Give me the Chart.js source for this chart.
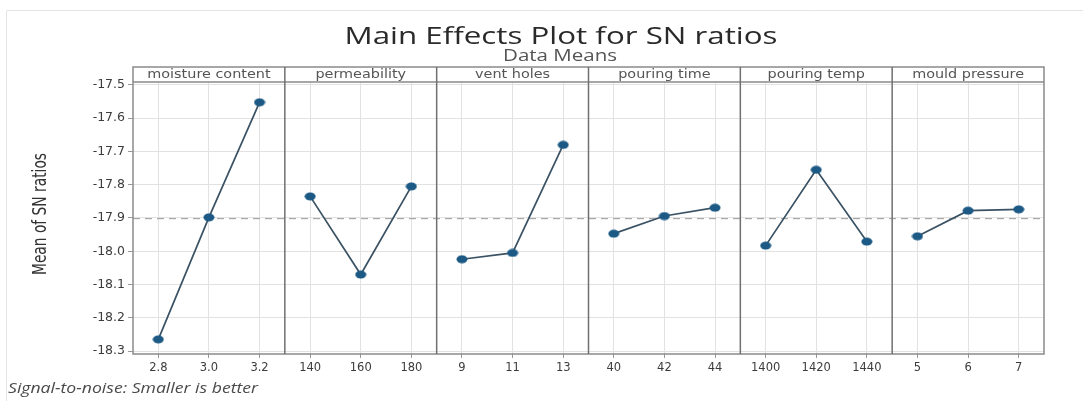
<!DOCTYPE html>
<html>
<head>
<meta charset="utf-8">
<script src="https://cdn.jsdelivr.net/npm/chart.js@4"></script>
<style>
  body { margin: 0; background: #fff; }
  canvas { display: block; }
</style>
</head>
<body>
<canvas id="chart" width="1083" height="401"></canvas>
<script>
// Factors and their levels
const factors = ['moisture content', 'permeability', 'vent holes', 'pouring time', 'pouring temp', 'mould pressure'];
const levels = [
  ['2.8', '3.0', '3.2'],
  ['140', '160', '180'],
  ['9', '11', '13'],
  ['40', '42', '44'],
  ['1400', '1420', '1440'],
  ['5', '6', '7']
];

// Mean of SN ratios for each level
const moisture = [-18.265, -17.898, -17.552];
const permeability = [-17.835, -18.070, -17.805];
const ventHoles = [-18.024, -18.005, -17.680];
const pouringTime = [-17.947, -17.894, -17.869];
const pouringTemp = [-17.983, -17.755, -17.971];
const mouldPressure = [-17.955, -17.878, -17.874];
const overallMean = -17.902;

const yTicks = [-18.3, -18.2, -18.1, -18.0, -17.9, -17.8, -17.7, -17.6, -17.5];

const series = [moisture, permeability, ventHoles, pouringTime, pouringTemp, mouldPressure];
const xLabels = levels.flat();

// marker: small filled blob like the minitab dot
const marker = document.createElement('canvas');
marker.width = 12;
marker.height = 9;
const mctx = marker.getContext('2d');
mctx.fillStyle = '#1c5a85';
mctx.beginPath();
mctx.ellipse(6, 4.5, 5.5, 4, 0, 0, Math.PI * 2);
mctx.fill();

const datasets = series.map((vals, i) => ({
  label: factors[i],
  data: vals.map((v, j) => ({ x: i * 3 + j, y: v })),
  borderColor: '#3a5264',
  borderWidth: 1.7,
  pointStyle: marker,
  pointRadius: 5,
  tension: 0
}));

// the source picture is a bit wide, so stretch text horizontally
function wideText(ctx, text, x, y, font, sx) {
  ctx.save();
  ctx.font = font;
  ctx.translate(x, y);
  ctx.scale(sx, 1);
  ctx.fillText(text, 0, 0);
  ctx.restore();
}

function fitText(ctx, text, x, y, font, width) {
  ctx.save();
  ctx.font = font;
  const sx = width / ctx.measureText(text).width;
  ctx.restore();
  wideText(ctx, text, x, y, font, sx);
}

// Panels, header strip, mean line and texts
const panelPlugin = {
  id: 'panels',
  beforeDatasetsDraw(chart) {
    const { ctx, chartArea, scales } = chart;
    const y = scales.y.getPixelForValue(overallMean);
    ctx.save();
    ctx.strokeStyle = '#9a9a9a';
    ctx.lineWidth = 1;
    ctx.setLineDash([7, 5]);
    ctx.beginPath();
    ctx.moveTo(chartArea.left, y);
    ctx.lineTo(chartArea.right, y);
    ctx.stroke();
    ctx.restore();
  },
  afterDraw(chart) {
    const { ctx, chartArea, scales } = chart;
    const { left, right, top, bottom } = chartArea;
    const stripTop = top - 15;
    ctx.save();

    // light page frame
    ctx.strokeStyle = '#e4e4e4';
    ctx.lineWidth = 1;
    ctx.beginPath();
    ctx.moveTo(6.5, 401);
    ctx.lineTo(6.5, 10.5);
    ctx.lineTo(1083, 10.5);
    ctx.stroke();

    // header strip
    ctx.fillStyle = '#ffffff';
    ctx.fillRect(left, stripTop, right - left, top - stripTop);
    ctx.strokeStyle = '#8a8a8a';
    ctx.lineWidth = 1.5;
    ctx.strokeRect(left, stripTop, right - left, bottom - stripTop);
    ctx.beginPath();
    ctx.moveTo(left, top);
    ctx.lineTo(right, top);
    ctx.stroke();

    ctx.strokeStyle = '#707070';
    for (let i = 1; i < factors.length; i++) {
      const x = scales.x.getPixelForValue(i * 3 - 0.5);
      ctx.beginPath();
      ctx.moveTo(x, stripTop);
      ctx.lineTo(x, bottom);
      ctx.stroke();
    }

    ctx.fillStyle = '#555';
    ctx.textAlign = 'center';
    ctx.textBaseline = 'middle';
    factors.forEach((f, i) => {
      const x = scales.x.getPixelForValue(i * 3 + 1);
      wideText(ctx, f, x, stripTop + 8, '12px "DejaVu Sans"', 1.2);
    });

    // titles
    ctx.fillStyle = '#2a2a2a';
    fitText(ctx, 'Main Effects Plot for SN ratios', 561, 37, '23px "Open Sans"', 433);
    ctx.fillStyle = '#555';
    fitText(ctx, 'Data Means', 560, 56, '16px "Open Sans"', 114);

    // y axis title, condensed
    ctx.save();
    ctx.fillStyle = '#333';
    ctx.translate(41, 214);
    ctx.rotate(-Math.PI / 2);
    fitText(ctx, 'Mean of SN ratios', 0, 0, '19px "Liberation Sans Narrow", "DejaVu Sans"', 122);
    ctx.restore();

    // footnote
    ctx.fillStyle = '#4a4a4a';
    ctx.textAlign = 'left';
    fitText(ctx, 'Signal-to-noise: Smaller is better', 8, 389, 'italic 14px "Open Sans"', 250);
    ctx.restore();
  }
};

new Chart(document.getElementById('chart'), {
  type: 'line',
  data: { datasets },
  options: {
    responsive: false,
    animation: false,
    layout: { padding: { top: 82, right: 39, left: 0, bottom: 0 } },
    plugins: {
      legend: { display: false },
      tooltip: { enabled: false }
    },
    scales: {
      x: {
        type: 'linear',
        min: -0.5,
        max: 17.5,
        afterBuildTicks: scale => {
          scale.ticks = xLabels.map((_, k) => ({ value: k }));
        },
        afterFit: scale => { scale.height = 47; },
        ticks: {
          autoSkip: false,
          maxRotation: 0,
          padding: 3,
          color: '#3c3c3c',
          font: { family: 'DejaVu Sans', size: 11.5 },
          callback: v => xLabels[v]
        },
        grid: { color: '#e2e2e2', tickColor: '#999', tickLength: 4 },
        border: { display: false }
      },
      y: {
        min: -18.309,
        max: -17.491,
        afterBuildTicks: scale => {
          scale.ticks = yTicks.map(v => ({ value: v }));
        },
        afterFit: scale => { scale.width = 133; },
        ticks: {
          padding: 3,
          color: '#3c3c3c',
          font: { family: 'DejaVu Sans', size: 12.5 },
          callback: v => v.toFixed(1)
        },
        grid: { color: '#e2e2e2', tickColor: '#999', tickLength: 5 },
        border: { display: false }
      }
    }
  },
  plugins: [panelPlugin]
});
</script>
</body>
</html>
